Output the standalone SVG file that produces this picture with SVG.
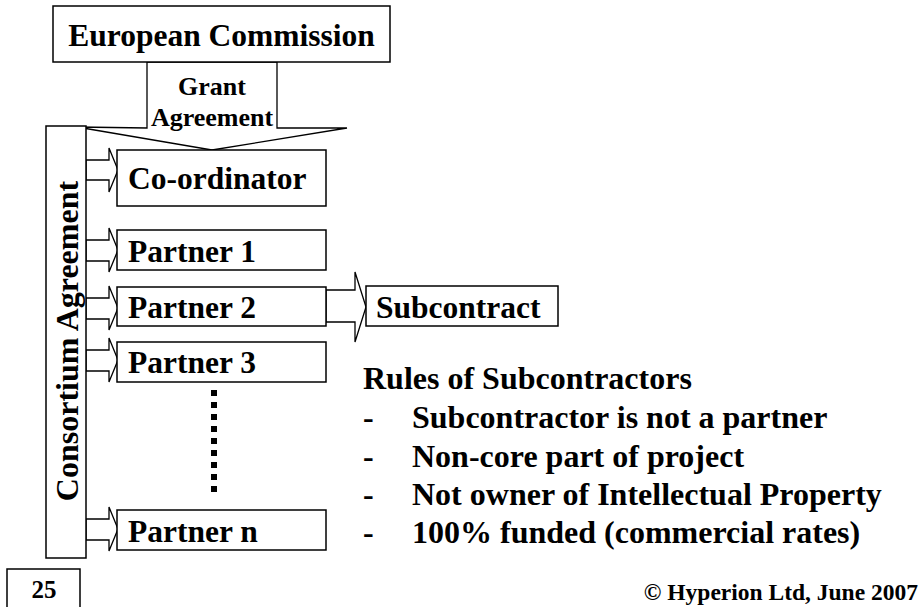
<svg xmlns="http://www.w3.org/2000/svg" width="923" height="607" viewBox="0 0 923 607">
<style>
.box{fill:#fff;stroke:#000;stroke-width:1.5}
.arr{fill:#fff;stroke:#000;stroke-width:1.3;stroke-linejoin:miter}
text{font-family:"Liberation Serif","Times New Roman",serif;font-weight:bold;fill:#000}
.lbl{font-size:31.5px}
.rule{font-size:32px}
</style>
<rect width="923" height="607" fill="#fff"/>
<g id="connectors">
<polygon class="arr" points="147,62 277,62 277,128 347,128 212,150 77,127 147,128"/>
<polygon class="arr" points="86,160 109,160 109,148 118,170 109,192 109,180 86,180"/>
<polygon class="arr" points="86,240 109,240 109,228 118,250 109,272 109,261 86,261"/>
<polygon class="arr" points="86,298 109,298 109,286 118,308 109,330 109,319 86,319"/>
<polygon class="arr" points="86,350 109,350 109,338 118,360 109,382 109,371 86,371"/>
<polygon class="arr" points="86,519 109,519 109,507 118,529 109,551 109,540 86,540"/>
<polygon class="arr" points="326,290 355,290 355,272 366,307 355,342 355,322 326,322"/>
<line x1="214" y1="390" x2="214" y2="492" stroke="#000" stroke-width="6" stroke-dasharray="6 6"/>
</g>
<g id="european-commission">
<rect class="box" x="53" y="6" width="337" height="56"/>
<text class="lbl" x="221.5" y="46" text-anchor="middle">European Commission</text>
</g>
<g id="grant-agreement">
<text x="212" y="95" font-size="26" text-anchor="middle">Grant</text>
<text x="212" y="126" font-size="26" text-anchor="middle">Agreement</text>
</g>
<g id="consortium-agreement">
<rect class="box" x="46" y="126" width="40" height="432"/>
<text class="rule" transform="translate(78,341) rotate(-90)" text-anchor="middle">Consortium Agreement</text>
</g>
<g id="coordinator">
<rect class="box" x="117" y="150" width="209" height="56"/>
<text class="lbl" x="128" y="189">Co-ordinator</text>
</g>
<g id="partner-1">
<rect class="box" x="117" y="230" width="209" height="40"/>
<text class="lbl" x="128" y="262">Partner 1</text>
</g>
<g id="partner-2">
<rect class="box" x="117" y="287" width="209" height="39"/>
<text class="lbl" x="128" y="318">Partner 2</text>
</g>
<g id="partner-3">
<rect class="box" x="117" y="342" width="209" height="40"/>
<text class="lbl" x="128" y="373">Partner 3</text>
</g>
<g id="partner-n">
<rect class="box" x="117" y="510" width="209" height="40"/>
<text class="lbl" x="128" y="542">Partner n</text>
</g>
<g id="subcontract">
<rect class="box" x="366" y="286" width="192" height="40"/>
<text class="lbl" x="376" y="318">Subcontract</text>
</g>
<g id="rules">
<text class="rule" x="363" y="389">Rules of Subcontractors</text>
<text class="rule" x="363" y="428" font-weight="normal">-</text>
<text class="rule" x="412" y="428">Subcontractor is not a partner</text>
<text class="rule" x="363" y="467" font-weight="normal">-</text>
<text class="rule" x="412" y="467">Non-core part of project</text>
<text class="rule" x="363" y="505" font-weight="normal">-</text>
<text class="rule" x="412" y="505">Not owner of Intellectual Property</text>
<text class="rule" x="363" y="543" font-weight="normal">-</text>
<text class="rule" x="412" y="543">100% funded (commercial rates)</text>
</g>
<g id="page-number">
<rect class="box" x="7" y="569" width="73" height="45"/>
<text x="44" y="598" font-size="25" text-anchor="middle">25</text>
</g>
<g id="copyright">
<text x="918" y="600" font-size="23.5" text-anchor="end">© Hyperion Ltd, June 2007</text>
</g>
</svg>
